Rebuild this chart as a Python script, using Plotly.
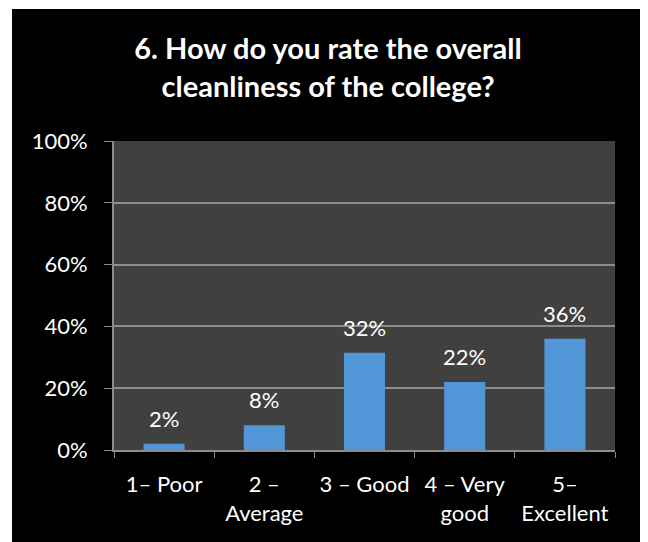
import plotly.graph_objects as go

categories = ["1– Poor", "2 –<br>Average", "3 – Good", "4 – Very<br>good", "5–<br>Excellent"]
values = [0.02, 0.08, 0.315, 0.22, 0.36]
labels = ["2%", "8%", "32%", "22%", "36%"]
y_ticks = [0, 0.2, 0.4, 0.6, 0.8, 1.0]
y_tick_text = ["0%", "20%", "40%", "60%", "80%", "100%"]

FONT = "Lato, 'Open Sans', sans-serif"

fig = go.Figure()
fig.add_trace(go.Bar(
    x=categories, y=values, width=0.41,
    marker=dict(color="#5196d6", line=dict(width=0)),
    hoverinfo="skip",
))

annotations = []
for c, v, t in zip(categories, values, labels):
    annotations.append(dict(x=c, y=v, text=t, showarrow=False, yanchor="bottom",
                            yshift=10, font=dict(color="white", size=22, family=FONT)))

# page body has an 8px margin, so figure coordinates are offset by 8px
W, H = 640, 534
L, T = 106, 133
R = W - 607
B = H - 442
pw, ph = W - L - R, H - T - B

fig.update_layout(
    width=W, height=H,
    margin=dict(l=L, r=R, t=T, b=B, pad=0),
    paper_bgcolor="white",
    plot_bgcolor="#404040",
    showlegend=False,
    title=dict(text="<b>6. How do you rate the overall<br>cleanliness of the college?</b>",
               x=0.5, xanchor="center", xref="container", y=1 - 51 / H, yanchor="middle",
               font=dict(color="white", size=29, family=FONT)),
    font=dict(family=FONT, color="white", size=22),
    annotations=annotations,
    shapes=[
        dict(type="rect", xref="paper", yref="paper", layer="below",
             x0=(4 - L) / pw, x1=(637 - L) / pw,
             y0=(H - B - 534) / ph, y1=(H - B - 1) / ph,
             fillcolor="black", line=dict(width=0)),
        dict(type="rect", xref="paper", yref="paper", layer="below",
             x0=0, x1=1, y0=0, y1=1,
             fillcolor="#404040", line=dict(width=0)),
    ],
)
fig.update_xaxes(
    showline=True, linecolor="#8c8c8c", linewidth=2,
    ticks="outside", tickson="boundaries", ticklen=6, tickcolor="#8c8c8c", tickwidth=1,
    tickfont=dict(color="white", size=22, family=FONT),
    ticklabelstandoff=14,
    showgrid=False,
)
fig.update_yaxes(
    range=[0, 1], tickvals=y_ticks, ticktext=y_tick_text,
    showline=True, linecolor="#8c8c8c", linewidth=2,
    ticks="outside", ticklen=8, tickcolor="#8c8c8c", tickwidth=1,
    gridcolor="#8c8c8c", gridwidth=1.5,
    tickfont=dict(color="white", size=22, family=FONT),
    ticklabelstandoff=12,
    zeroline=False,
)

fig.write_html("out.html")
